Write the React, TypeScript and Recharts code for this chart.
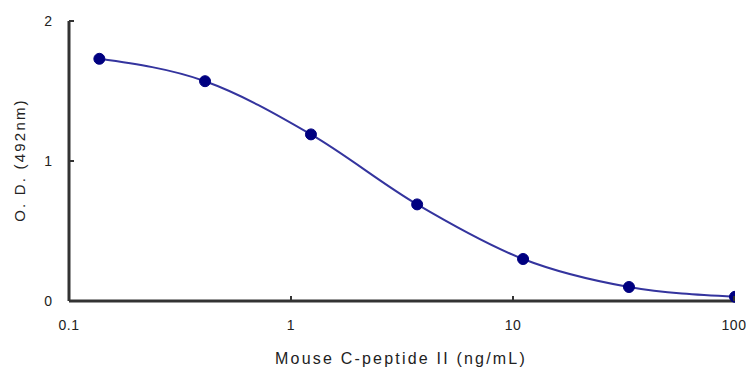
import React from 'react';
import { LineChart, Line, XAxis, YAxis, ReferenceLine } from 'recharts';

const concentrations = [0.137, 0.41, 1.23, 3.7, 11.1, 33.3, 100];
const odValues = [1.73, 1.57, 1.19, 0.69, 0.3, 0.1, 0.03];
const xTicks = [0.1, 1, 10, 100];
const yTicks = [0, 1, 2];
const xTitle = 'Mouse C-peptide II (ng/mL)';
const yTitle = 'O. D. (492nm)';

const data = concentrations.map((c, i) => ({ x: c, y: odValues[i] }));

const font = 'Arial, "Liberation Sans", sans-serif';

const XTick = (props: any) => {
  const { x, y, payload } = props;
  return (
    <g>
      <line x1={x} x2={x} y1={y} y2={y - 5} stroke="#333" strokeWidth={2} />
      <text x={x} y={y + 29} textAnchor="middle" fontFamily={font} fontSize={14} letterSpacing={0.5} fill="#222">
        {String(payload.value)}
      </text>
    </g>
  );
};

const YTick = (props: any) => {
  const { x, y, payload } = props;
  return (
    <g>
      <line x1={x} x2={x + 5} y1={y} y2={y} stroke="#333" strokeWidth={2} />
      <text x={x - 17} y={y + 5} textAnchor="end" fontFamily={font} fontSize={14} fill="#222">
        {String(payload.value)}
      </text>
    </g>
  );
};

export default function App() {
  return (
    <div style={{ position: 'absolute', left: 0, top: 0, width: 746, height: 371, background: '#fff' }}>
      <LineChart width={746} height={371} data={data} margin={{ top: 21, right: 11, bottom: 0, left: 0 }}>
        <XAxis
          dataKey="x"
          type="number"
          scale="log"
          domain={[0.1, 100]}
          ticks={xTicks}
          allowDataOverflow
          height={70}
          tickSize={0}
          tickMargin={0}
          axisLine={false}
          tickLine={false}
          tick={<XTick />}
          label={{
            content: () => (
              <text x={401} y={364} textAnchor="middle" fontFamily={font} fontSize={16} letterSpacing={2.2} fill="#222">
                {xTitle}
              </text>
            ),
          }}
        />
        <YAxis
          dataKey="y"
          type="number"
          domain={[0, 2]}
          ticks={yTicks}
          width={69}
          tickSize={0}
          tickMargin={0}
          axisLine={false}
          tickLine={false}
          tick={<YTick />}
          label={{
            content: () => (
              <text
                x={25}
                y={160}
                textAnchor="middle"
                transform="rotate(-90 25 160)"
                fontFamily={font}
                fontSize={15}
                letterSpacing={2.2}
                fill="#222"
              >
                {yTitle}
              </text>
            ),
          }}
        />
        <ReferenceLine x={0.1} stroke="#333" strokeWidth={3} ifOverflow="visible" />
        <ReferenceLine y={0} stroke="#333" strokeWidth={3} ifOverflow="visible" />
        <Line
          type="monotone"
          dataKey="y"
          stroke="#34349e"
          strokeWidth={2}
          dot={{ r: 5.5, fill: '#000080', stroke: '#000080', strokeWidth: 1 }}
          isAnimationActive={false}
        />
      </LineChart>
    </div>
  );
}
